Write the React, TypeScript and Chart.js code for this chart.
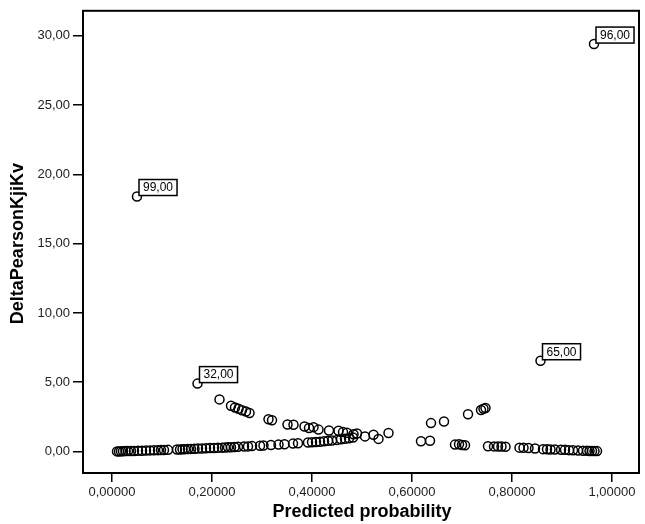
import { useEffect, useRef } from "react";
import { Chart, registerables } from "chart.js";

Chart.register(...registerables);

// Lower-left branch
const probA = [0.010, 0.014, 0.018, 0.022, 0.027, 0.032, 0.038, 0.044, 0.052, 0.060, 0.068, 0.076, 0.084, 0.092, 0.098, 0.104, 0.112, 0.130, 0.136, 0.141, 0.146, 0.152, 0.158, 0.165, 0.172, 0.180, 0.188, 0.196, 0.204, 0.212, 0.220, 0.226, 0.232, 0.238, 0.245, 0.252, 0.264, 0.272, 0.280, 0.296, 0.303, 0.318, 0.333, 0.345, 0.362, 0.372, 0.392, 0.400, 0.408, 0.416, 0.424, 0.432, 0.440, 0.450, 0.458, 0.466, 0.474, 0.482, 0.506, 0.533];
const deltaA = [0.01, 0.01, 0.02, 0.02, 0.03, 0.03, 0.04, 0.04, 0.05, 0.06, 0.07, 0.08, 0.09, 0.10, 0.11, 0.11, 0.12, 0.15, 0.15, 0.16, 0.17, 0.18, 0.19, 0.20, 0.21, 0.22, 0.23, 0.25, 0.26, 0.27, 0.28, 0.29, 0.30, 0.31, 0.32, 0.34, 0.36, 0.37, 0.39, 0.42, 0.44, 0.47, 0.50, 0.53, 0.57, 0.60, 0.65, 0.67, 0.69, 0.71, 0.74, 0.77, 0.80, 0.84, 0.88, 0.92, 0.96, 1.01, 1.09, 0.91];

// Upper-left branch
const probB = [0.215, 0.238, 0.246, 0.253, 0.260, 0.268, 0.275, 0.313, 0.320, 0.351, 0.363, 0.385, 0.394, 0.403, 0.413, 0.434, 0.453, 0.462, 0.470, 0.483, 0.490, 0.523, 0.553];
const deltaB = [3.76, 3.30, 3.18, 3.08, 2.98, 2.88, 2.78, 2.33, 2.25, 1.95, 1.93, 1.80, 1.70, 1.76, 1.58, 1.52, 1.50, 1.40, 1.35, 1.24, 1.30, 1.21, 1.33];

// Upper-right branch
const probC = [0.638, 0.664, 0.712, 0.738, 0.743, 0.747];
const deltaC = [2.05, 2.17, 2.69, 3.00, 3.08, 3.14];

// Lower-right branch
const probD = [0.618, 0.636, 0.686, 0.694, 0.700, 0.706, 0.752, 0.764, 0.772, 0.779, 0.787, 0.815, 0.823, 0.833, 0.846, 0.862, 0.870, 0.877, 0.886, 0.898, 0.906, 0.914, 0.922, 0.932, 0.942, 0.950, 0.955, 0.960, 0.965, 0.970];
const deltaD = [0.74, 0.78, 0.50, 0.52, 0.47, 0.45, 0.38, 0.37, 0.36, 0.36, 0.35, 0.28, 0.27, 0.25, 0.22, 0.17, 0.16, 0.15, 0.14, 0.13, 0.12, 0.10, 0.09, 0.07, 0.06, 0.05, 0.04, 0.04, 0.03, 0.03];

// Labelled cases
const outlierProb = [0.050, 0.171, 0.857, 0.964];
const outlierDelta = [18.4, 4.9, 6.55, 29.4];
const outlierCase = ["99,00", "32,00", "65,00", "96,00"];

const xTicks = [0, 0.2, 0.4, 0.6, 0.8, 1.0];
const yTicks = [0, 5, 10, 15, 20, 25, 30];

const xTitle = "Predicted probability";
const yTitle = "DeltaPearsonKjiKv";

const FONT = "'Liberation Sans', Arial, Helvetica, sans-serif";

function pts(xs: number[], ys: number[]) {
  return xs.map((x, i) => ({ x, y: ys[i] }));
}

const annotPlugin = {
  id: "annot",
  afterDatasetsDraw(chart: any) {
    const { ctx, chartArea: a, scales } = chart;
    const xs = scales.x;
    const ys = scales.y;
    ctx.save();
    ctx.strokeStyle = "#000";
    ctx.lineWidth = 2;
    ctx.strokeRect(a.left, a.top, a.right - a.left, a.bottom - a.top);

    ctx.font = `12px ${FONT}`;
    ctx.lineWidth = 1.5;
    outlierCase.forEach((t, i) => {
      const px = xs.getPixelForValue(outlierProb[i]);
      const py = ys.getPixelForValue(outlierDelta[i]);
      const w = ctx.measureText(t).width + 8;
      const h = 16;
      const bx = px + 2;
      const by = py - 1 - h;
      ctx.fillStyle = "#fff";
      ctx.fillRect(bx, by, w, h);
      ctx.strokeRect(bx, by, w, h);
      ctx.fillStyle = "#000";
      ctx.textAlign = "left";
      ctx.textBaseline = "middle";
      ctx.fillText(t, bx + 4, by + h / 2 + 0.5);
    });

    ctx.fillStyle = "#000";
    ctx.font = `bold 18px ${FONT}`;
    ctx.textAlign = "center";
    ctx.textBaseline = "middle";
    const cx = (xs.getPixelForValue(0) + xs.getPixelForValue(1)) / 2;
    ctx.fillText(xTitle, cx, 512);
    const cy = (ys.getPixelForValue(0) + ys.getPixelForValue(30)) / 2;
    ctx.translate(18, cy);
    ctx.rotate(-Math.PI / 2);
    ctx.fillText(yTitle, 0, 0);
    ctx.restore();
  },
};

export default function App() {
  const ref = useRef<HTMLCanvasElement>(null);
  useEffect(() => {
    if (!ref.current) return;
    const data = [
      ...pts(probA, deltaA),
      ...pts(probB, deltaB),
      ...pts(probC, deltaC),
      ...pts(probD, deltaD),
      ...pts(outlierProb, outlierDelta),
    ];
    const chart = new Chart(ref.current, {
      type: "scatter",
      data: {
        datasets: [
          {
            data,
            pointStyle: "circle",
            pointRadius: 4.5,
            pointBorderWidth: 1.5,
            pointBorderColor: "#000",
            pointBackgroundColor: "rgba(0,0,0,0)",
          },
        ],
      },
      options: {
        responsive: false,
        animation: false,
        layout: { padding: { top: 5, right: 3, left: 0, bottom: 0 } },
        plugins: { legend: { display: false }, tooltip: { enabled: false } },
        scales: {
          x: {
            type: "linear",
            min: -0.058,
            max: 1.054,
            afterBuildTicks: (s: any) => {
              s.ticks = xTicks.map((v) => ({ value: v }));
            },
            afterFit: (s: any) => {
              s.height = 51;
            },
            ticks: {
              callback: (v: any) => Number(v).toFixed(5).replace(".", ","),
              font: { family: FONT, size: 13 },
              color: "#222",
              padding: 3,
              maxRotation: 0,
            },
            grid: {
              drawOnChartArea: false,
              drawTicks: true,
              tickLength: 9,
              color: "#000",
              lineWidth: 1.5,
            },
            border: { display: false },
          },
          y: {
            type: "linear",
            min: -1.55,
            max: 31.8,
            afterBuildTicks: (s: any) => {
              s.ticks = yTicks.map((v) => ({ value: v }));
            },
            afterFit: (s: any) => {
              s.width = 83;
            },
            ticks: {
              callback: (v: any) => Number(v).toFixed(2).replace(".", ","),
              font: { family: FONT, size: 13 },
              color: "#222",
              padding: 3,
            },
            grid: {
              drawOnChartArea: false,
              drawTicks: true,
              tickLength: 10,
              color: "#000",
              lineWidth: 1.5,
            },
            border: { display: false },
          },
        },
      },
      plugins: [annotPlugin],
    });
    return () => chart.destroy();
  }, []);
  return (
    <div style={{ position: "fixed", left: 0, top: 0, width: 645, height: 524, background: "#fff" }}>
      <canvas ref={ref} width={645} height={524} style={{ display: "block" }} />
    </div>
  );
}
